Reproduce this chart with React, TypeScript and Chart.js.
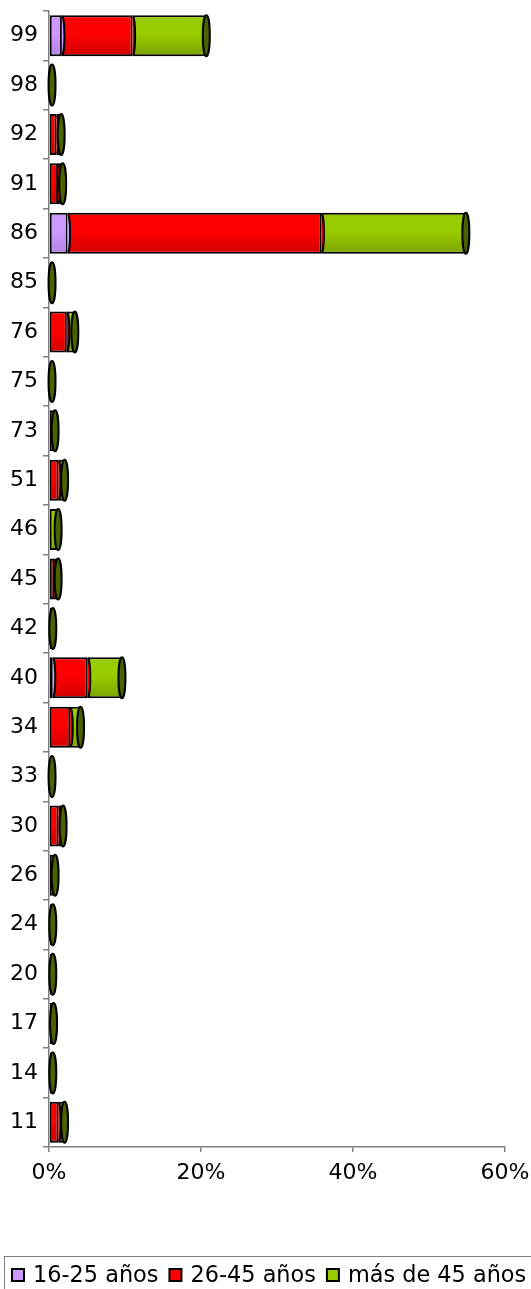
import React, { useEffect, useRef } from 'react';
import { Chart, registerables } from 'chart.js';

Chart.register(...registerables);

// ---- data ----
const categories = ['99', '98', '92', '91', '86', '85', '76', '75', '73', '51', '46', '45', '42', '40', '34', '33', '30', '26', '24', '20', '17', '14', '11'];
const age16to25 = [1.7, 0, 0, 0, 2.45, 0, 0, 0, 0, 0, 0, 0, 0, 0.5, 0, 0, 0, 0, 0, 0, 0, 0, 0];
const age26to45 = [9.3, 0, 1.0, 1.2, 33.4, 0, 2.35, 0, 0, 1.25, 0, 0.7, 0, 4.6, 2.8, 0, 1.25, 0, 0, 0, 0, 0, 1.25];
const ageOver45 = [9.7, 0.4, 0.6, 0.6, 19.0, 0.4, 1.05, 0.4, 0.8, 0.8, 1.2, 0.5, 0.5, 4.5, 1.35, 0.4, 0.6, 0.8, 0.5, 0.5, 0.6, 0.5, 0.8];
const seriesLabels = ['16-25 años', '26-45 años', 'más de 45 años'];
const xTickValues = [0, 20, 40, 60];

// ---- styles ----
const topColors = ['#CC99FF', '#FF0000', '#99CC00'];
const bottomColors = ['#B483E6', '#D00000', '#7CA300'];
const capColors = ['#7A5AA6', '#8A0000', '#4A6300'];
const FONT = 'DejaVu Sans, Verdana, sans-serif';
const FONT_SIZE = 22;
const LEGEND_FONT_SIZE = 22.4;
const AXIS_GRAY = '#808080';
const BAR_FRACTION = 0.83;

function gradFill(idx: number) {
  return (ctx: any) => {
    const chart = ctx.chart;
    const y = chart.scales && chart.scales.y;
    if (ctx.type !== 'data' || !y || ctx.dataIndex === undefined) return topColors[idx];
    const cy = y.getPixelForValue(ctx.dataIndex);
    const step = Math.abs(y.getPixelForValue(1) - y.getPixelForValue(0));
    if (!isFinite(cy) || !isFinite(step) || step <= 0) return topColors[idx];
    const half = (step * BAR_FRACTION) / 2;
    const g = chart.ctx.createLinearGradient(0, cy - half, 0, cy + half);
    g.addColorStop(0, topColors[idx]);
    g.addColorStop(0.45, topColors[idx]);
    g.addColorStop(1, bottomColors[idx]);
    return g;
  };
}

const cylinderPlugin = {
  id: 'cylinderCaps',
  afterDatasetsDraw(chart: any) {
    const ctx = chart.ctx;
    const ds = chart.data.datasets;
    const n = chart.data.labels.length;
    ctx.save();
    for (let i = 0; i < n; i++) {
      let last = -1;
      for (let d = 0; d < ds.length; d++) if (ds[d].data[i] && ds[d].data[i] > 0) last = d;
      for (let d = 0; d < ds.length; d++) {
        const v = ds[d].data[i];
        if (!(v > 0)) continue;
        const el = chart.getDatasetMeta(d).data[i];
        if (!el) continue;
        const { x, y, height } = el.getProps(['x', 'y', 'height'], true);
        if (!isFinite(x) || !isFinite(y) || !isFinite(height)) continue;
        const h2 = Math.abs(height) / 2;
        if (d === last) {
          ctx.beginPath();
          ctx.ellipse(x, y, 3.5, h2, 0, 0, Math.PI * 2);
          ctx.fillStyle = capColors[d];
          ctx.fill();
          ctx.lineWidth = 2;
          ctx.strokeStyle = '#000';
          ctx.stroke();
        } else {
          const ry = Math.max(h2 - 1, 1);
          ctx.beginPath();
          ctx.ellipse(x, y, 2.5, ry, 0, -Math.PI / 2, Math.PI / 2);
          ctx.closePath();
          ctx.fillStyle = topColors[d];
          ctx.fill();
          ctx.beginPath();
          ctx.ellipse(x, y, 2.5, ry, 0, -Math.PI / 2, Math.PI / 2);
          ctx.lineWidth = 2;
          ctx.strokeStyle = '#000';
          ctx.stroke();
        }
      }
    }
    ctx.restore();
  },
};

const legendPlugin = {
  id: 'boxedLegend',
  afterDraw(chart: any) {
    const ctx = chart.ctx;
    ctx.save();
    ctx.strokeStyle = AXIS_GRAY;
    ctx.lineWidth = 1;
    ctx.strokeRect(4.5, 1256.5, 560, 60);
    ctx.font = `${LEGEND_FONT_SIZE}px ${FONT}`;
    ctx.textBaseline = 'middle';
    ctx.textAlign = 'left';
    const cy = 1275;
    let x = 12;
    seriesLabels.forEach((label, k) => {
      ctx.fillStyle = topColors[k];
      ctx.fillRect(x, cy - 6, 12, 12);
      ctx.lineWidth = 2;
      ctx.strokeStyle = '#000';
      ctx.strokeRect(x, cy - 6, 12, 12);
      ctx.fillStyle = '#000';
      const tx = x + 21;
      ctx.fillText(label, tx, cy + 1);
      x = tx + ctx.measureText(label).width + 11;
    });
    ctx.restore();
  },
};

export default function App() {
  const canvasRef = useRef<HTMLCanvasElement | null>(null);

  useEffect(() => {
    if (!canvasRef.current) return;
    const series = [age16to25, age26to45, ageOver45];
    const chart = new Chart(canvasRef.current, {
      type: 'bar',
      data: {
        labels: categories,
        datasets: series.map((arr, k) => ({
          label: seriesLabels[k],
          data: arr.map((v) => (v > 0 ? v : null)),
          backgroundColor: gradFill(k),
          borderColor: '#000',
          borderWidth: 2,
          borderSkipped: false,
          barPercentage: BAR_FRACTION,
          categoryPercentage: 1,
        })),
      },
      options: {
        indexAxis: 'y',
        animation: false,
        responsive: false,
        devicePixelRatio: 1,
        layout: { padding: { top: 11, right: 26, left: 0, bottom: 33 } },
        plugins: {
          legend: { display: false },
          tooltip: { enabled: false },
        },
        scales: {
          x: {
            stacked: true,
            min: 0,
            max: 60,
            afterBuildTicks: (scale: any) => {
              scale.ticks = xTickValues.map((v) => ({ value: v }));
            },
            afterFit: (scale: any) => {
              scale.height = 109;
              scale.paddingLeft = 0;
              scale.paddingRight = 0;
              scale.paddingTop = 0;
              scale.paddingBottom = 0;
            },
            ticks: {
              callback: (v: any) => `${v}%`,
              color: '#000',
              font: { family: FONT, size: FONT_SIZE },
              padding: 8,
              maxRotation: 0,
              autoSkip: false,
            },
            grid: {
              drawOnChartArea: false,
              drawTicks: true,
              tickLength: 5,
              color: AXIS_GRAY,
              lineWidth: 1.5,
            },
            border: { display: true, color: AXIS_GRAY, width: 1.5 },
          },
          y: {
            stacked: true,
            afterFit: (scale: any) => {
              scale.width = 49;
              scale.paddingLeft = 0;
              scale.paddingRight = 0;
              scale.paddingTop = 0;
              scale.paddingBottom = 0;
            },
            ticks: {
              color: '#000',
              font: { family: FONT, size: FONT_SIZE },
              padding: 5,
              autoSkip: false,
            },
            grid: {
              offset: true,
              drawOnChartArea: false,
              drawTicks: true,
              tickLength: 6,
              color: AXIS_GRAY,
              lineWidth: 1.5,
            },
            border: { display: true, color: AXIS_GRAY, width: 1.5 },
          },
        },
      },
      plugins: [cylinderPlugin, legendPlugin],
    });
    return () => chart.destroy();
  }, []);

  return (
    <div style={{ position: 'absolute', left: 0, top: 0, width: 531, height: 1289 }}>
      <canvas ref={canvasRef} width={531} height={1289} style={{ display: 'block', width: 531, height: 1289 }} />
    </div>
  );
}
